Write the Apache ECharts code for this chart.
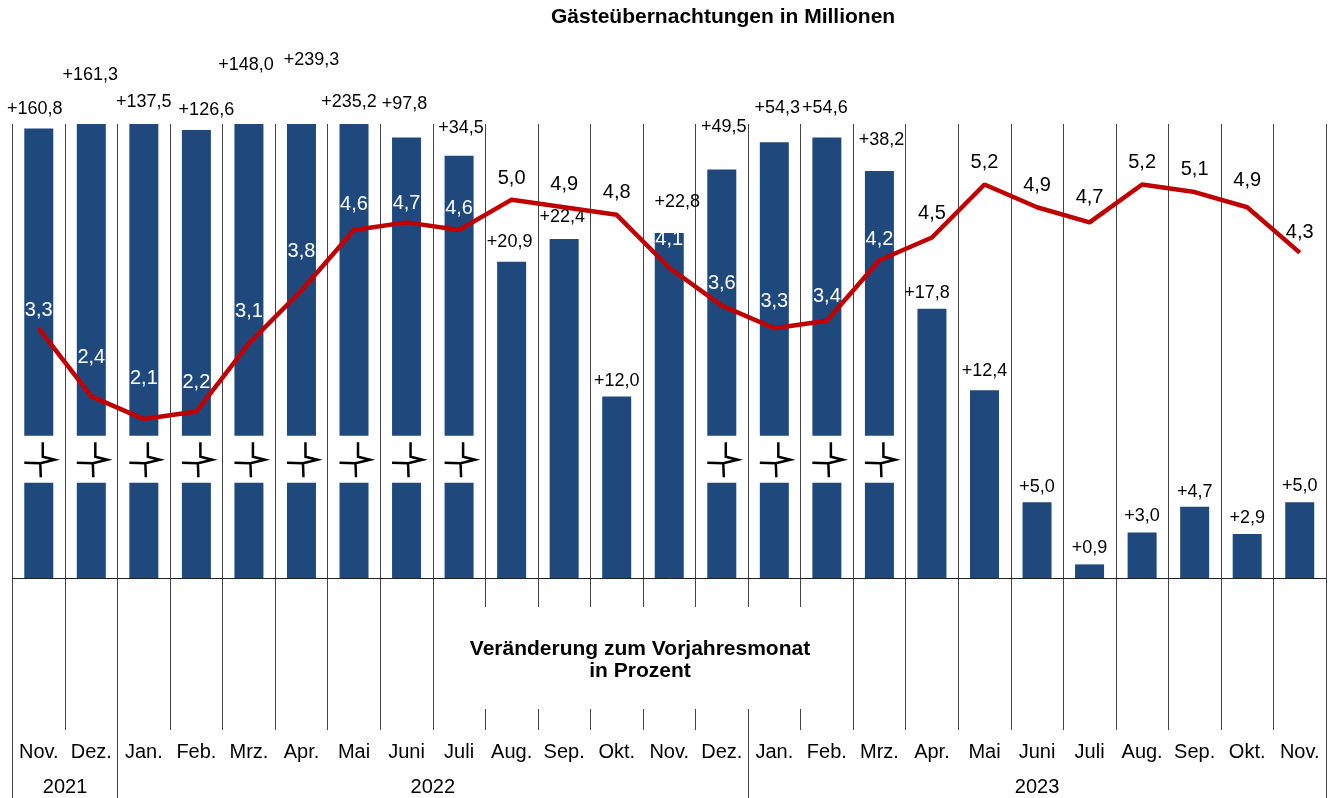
<!DOCTYPE html>
<html>
<head>
<meta charset="utf-8">
<script src="https://cdn.jsdelivr.net/npm/echarts@6/dist/echarts.min.js"></script>
<style>
    html, body { margin: 0; padding: 0; background: #fff; }
    #chart { width: 1335px; height: 798px; }
</style>
</head>
<body>
<div id="chart"></div>
<script>
// Monate Nov. 2021 bis Nov. 2023
const monate = ['Nov.', 'Dez.', 'Jan.', 'Feb.', 'Mrz.', 'Apr.', 'Mai', 'Juni', 'Juli', 'Aug.', 'Sep.', 'Okt.', 'Nov.', 'Dez.',
    'Jan.', 'Feb.', 'Mrz.', 'Apr.', 'Mai', 'Juni', 'Juli', 'Aug.', 'Sep.', 'Okt.', 'Nov.']
const jahre = ['2021', '2022', '2023']
const monateProJahr = [2, 12, 11]

// Veränderung zum Vorjahresmonat in Prozent
const veraenderung = [160.8, 161.3, 137.5, 126.6, 148.0, 239.3, 235.2, 97.8, 34.5, 20.9, 22.4, 12.0, 22.8, 49.5,
    54.3, 54.6, 38.2, 17.8, 12.4, 5.0, 0.9, 3.0, 4.7, 2.9, 5.0]
// gezeichnete Balkenhöhe (große Werte gekappt und mit Bruch dargestellt)
const balkenHoehe = [29.7, 30, 30, 29.6, 30, 30, 30, 29.1, 27.9, 20.9, 22.4, 12.0, 22.8, 27.0,
    28.8, 29.1, 26.9, 17.8, 12.4, 5.0, 0.9, 3.0, 4.7, 2.9, 5.0]
// Gästeübernachtungen in Millionen
const uebernachtungen = [3.3, 2.4, 2.1, 2.2, 3.1, 3.8, 4.6, 4.7, 4.6, 5.0, 4.9, 4.8, 4.1, 3.6,
    3.3, 3.4, 4.2, 4.5, 5.2, 4.9, 4.7, 5.2, 5.1, 4.9, 4.3]

const BALKEN_MAX = 30
const LINIE_MAX = 6
const BRUCH_UNTEN = 6.3
const BRUCH_OBEN = 9.4
const FONT = '"Liberation Sans", Arial, sans-serif'

// Feinjustierung der Beschriftungen (px)
const balkenLabelDx = [-4, -1, 0, 10, -3, 10, -5, -2, 2, -2, -2, 0, 8, 2, 3, -2, 2, -5, 0, 0, 0, 0, 0, 0, 0]
const balkenLabelHub = [5, 34, 7, 5, 44, 49, 7, 19, 13, 5, 7, 0, 16, 27, 19, 15, 16, 1, 4, 0, 1, 2, 0, 1, 1]
const linienLabelAbstand = [7, 28, 30, 19, 21, 28, 15, 8, 11, 11, 12, 12, 18, 12, 16, 14, 10, 14, 12, 11, 14, 12, 12, 16, 10]

const gebrochen = veraenderung.map((v, i) => v > balkenHoehe[i])
const fmt = (v) => v.toFixed(1).replace('.', ',')

// Jahresgrenzen und -mitten aus der Anzahl der Monate
const jahrGrenzen = [0]
monateProJahr.forEach((n) => jahrGrenzen.push(jahrGrenzen[jahrGrenzen.length - 1] + n))
const jahrMitten = jahre.map((j, k) => (jahrGrenzen[k] + jahrGrenzen[k + 1]) / 2)

const renderBalken = (params, api) => {
    const i = params.dataIndex
    const basis = api.coord([i, 0])
    const oben = api.coord([i, api.value(1)])
    const w = 29
    const x = basis[0] - w / 2
    const fill = { fill: '#1F497D' }
    const kinder = []
    if (gebrochen[i]) {
        const lo = api.coord([i, BRUCH_UNTEN])
        const hi = api.coord([i, BRUCH_OBEN])
        const cx = basis[0]
        const m = (lo[1] + hi[1]) / 2
        kinder.push({ type: 'rect', shape: { x: x, y: lo[1], width: w, height: basis[1] - lo[1] }, style: fill })
        kinder.push({ type: 'rect', shape: { x: x, y: oben[1], width: w, height: hi[1] - oben[1] }, style: fill })
        // Bruchzeichen
        kinder.push({
            type: 'polyline',
            shape: { points: [[cx + 4, m - 17], [cx + 4, m - 2.5], [cx + 16, m + 0.5], [cx + 1.5, m + 4], [cx + 2, m + 18]] },
            style: { stroke: '#000', lineWidth: 2.5, fill: null, lineJoin: 'miter' }
        })
        kinder.push({
            type: 'line',
            shape: { x1: cx - 14.5, y1: m + 3.5, x2: cx + 1.5, y2: m + 4 },
            style: { stroke: '#000', lineWidth: 2.5 }
        })
    } else {
        kinder.push({ type: 'rect', shape: { x: x, y: oben[1], width: w, height: basis[1] - oben[1] }, style: fill })
    }
    kinder.push({
        type: 'text',
        x: basis[0] + balkenLabelDx[i],
        y: oben[1] - 15 - balkenLabelHub[i],
        style: {
            text: '+' + fmt(veraenderung[i]),
            fill: '#000',
            font: '18px ' + FONT,
            align: 'center',
            verticalAlign: 'middle'
        }
    })
    return { type: 'group', children: kinder }
}

const chart = echarts.init(document.getElementById('chart'))

const option = {
    animation: false,
    backgroundColor: '#fff',
    title: {
        text: 'Gästeübernachtungen in Millionen',
        left: 551,
        top: 7,
        padding: 0,
        textStyle: { fontFamily: FONT, fontSize: 21, fontWeight: 'bold', color: '#000' }
    },
    grid: [
        { left: 12.5, right: 9, top: 124, height: 454 },
        { left: 12.5, right: 9, top: 578, height: 152 }
    ],
    xAxis: [
        {
            gridIndex: 0,
            type: 'category',
            data: monate,
            boundaryGap: true,
            axisLine: { show: true, lineStyle: { color: '#222', width: 1 } },
            axisTick: { show: false },
            axisLabel: { show: false },
            splitLine: { show: true, interval: 0, lineStyle: { color: '#444', width: 1 } }
        },
        {
            gridIndex: 1,
            type: 'category',
            data: monate,
            boundaryGap: true,
            position: 'bottom',
            axisLine: { show: false },
            axisTick: { show: false },
            axisLabel: { interval: 0, margin: 12, fontFamily: FONT, fontSize: 20, color: '#000' },
            splitLine: { show: true, interval: 0, lineStyle: { color: '#444', width: 1 } }
        },
        {
            gridIndex: 1,
            type: 'value',
            min: 0,
            max: monate.length,
            position: 'bottom',
            axisLine: { show: false },
            axisTick: { show: true, customValues: jahrGrenzen, length: 68, lineStyle: { color: '#444', width: 1 } },
            axisLabel: {
                customValues: jahrMitten,
                margin: 47,
                fontFamily: FONT,
                fontSize: 20,
                color: '#000',
                formatter: (v) => jahre[jahrMitten.indexOf(v)]
            },
            splitLine: { show: false }
        }
    ],
    yAxis: [
        { gridIndex: 0, type: 'value', min: 0, max: BALKEN_MAX, show: false },
        { gridIndex: 0, type: 'value', min: 0, max: LINIE_MAX, show: false },
        { gridIndex: 1, type: 'value', min: 0, max: 1, show: false }
    ],
    graphic: [
        {
            type: 'rect',
            z: 100,
            shape: { x: 434, y: 607, width: 416, height: 102 },
            style: { fill: '#fff' }
        },
        {
            type: 'text',
            z: 101,
            x: 640,
            y: 660,
            style: {
                text: 'Veränderung zum Vorjahresmonat\nin Prozent',
                font: 'bold 21px ' + FONT,
                lineHeight: 22,
                fill: '#000',
                align: 'center',
                verticalAlign: 'middle'
            }
        }
    ],
    series: [
        {
            name: 'Veränderung zum Vorjahresmonat',
            type: 'custom',
            xAxisIndex: 0,
            yAxisIndex: 0,
            z: 2,
            renderItem: renderBalken,
            encode: { x: 0, y: 1 },
            data: balkenHoehe.map((v, i) => [i, v])
        },
        {
            name: 'Gästeübernachtungen',
            type: 'line',
            xAxisIndex: 0,
            yAxisIndex: 1,
            z: 3,
            symbol: 'circle',
            symbolSize: 1,
            showSymbol: true,
            lineStyle: { color: '#C00000', width: 4.5 },
            itemStyle: { color: '#C00000' },
            data: uebernachtungen.map((v, i) => ({
                value: v,
                label: {
                    show: true,
                    position: 'top',
                    distance: linienLabelAbstand[i],
                    color: v * BALKEN_MAX / LINIE_MAX < balkenHoehe[i] ? '#fff' : '#000',
                    fontFamily: FONT,
                    fontSize: 20,
                    formatter: () => fmt(v)
                }
            }))
        }
    ]
}

chart.setOption(option)
</script>
</body>
</html>
